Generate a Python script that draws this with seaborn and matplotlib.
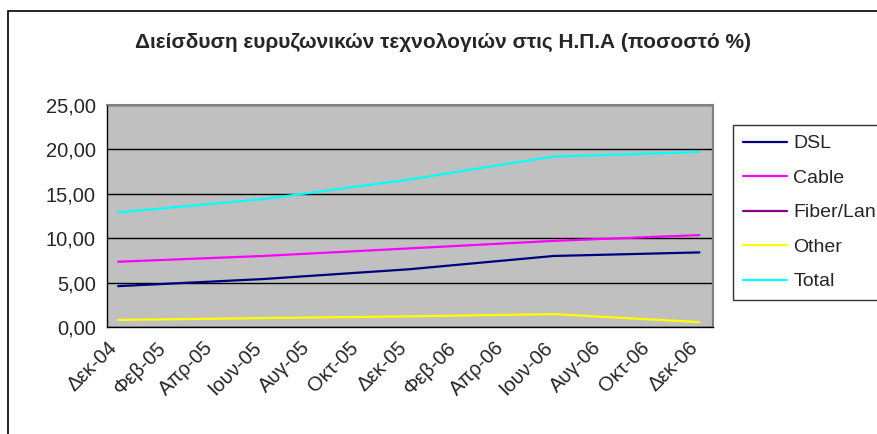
import numpy as np
import pandas as pd
import matplotlib
matplotlib.use("Agg")
import matplotlib.pyplot as plt
from matplotlib.lines import Line2D
from matplotlib.patches import Rectangle
import seaborn as sns

# Data
dates = pd.to_datetime(["2004-12-15", "2005-06-15", "2005-12-15", "2006-06-15", "2006-12-15"])
dsl = [4.6, 5.4, 6.5, 8.0, 8.4]
cable = [7.35, 8.0, 8.85, 9.7, 10.35]
fiber_lan = [np.nan, np.nan, np.nan, np.nan, np.nan]
other = [0.8, 1.0, 1.2, 1.45, 0.55]
total = [12.9, 14.4, 16.6, 19.2, 19.7]

series_names = ["DSL", "Cable", "Fiber/Lan", "Other", "Total"]
series_colors = ["#000080", "#FF00FF", "#800080", "#FFFF00", "#00FFFF"]

tick_dates = pd.date_range("2004-12-01", "2006-12-01", freq="2MS")
tick_labels = ["Δεκ-04", "Φεβ-05", "Απρ-05", "Ιουν-05", "Αυγ-05", "Οκτ-05", "Δεκ-05",
               "Φεβ-06", "Απρ-06", "Ιουν-06", "Αυγ-06", "Οκτ-06", "Δεκ-06"]
y_ticks = [0, 5, 10, 15, 20, 25]
y_tick_labels = ["0,00", "5,00", "10,00", "15,00", "20,00", "25,00"]

title = "Διείσδυση ευρυζωνικών τεχνολογιών στις Η.Π.Α (ποσοστό %)"

df = pd.DataFrame({"date": dates, "DSL": dsl, "Cable": cable, "Fiber/Lan": fiber_lan,
                   "Other": other, "Total": total})
long_df = df.melt(id_vars="date", var_name="series", value_name="value").dropna()

sns.set_style("white")
plt.rcParams["font.family"] = ["Liberation Sans", "DejaVu Sans"]

fig = plt.figure(figsize=(8.78, 4.34), dpi=100)
ax = fig.add_axes([107 / 878, 1 - 327 / 434, (713 - 107) / 878, (327 - 105) / 434])
ax.set_facecolor("#C0C0C0")

sns.lineplot(data=long_df, x="date", y="value", hue="series",
             hue_order=[n for n in series_names if n in long_df["series"].unique()],
             palette=dict(zip(series_names, series_colors)),
             linewidth=1.6, legend=False, ax=ax)

ax.set_xlim(pd.Timestamp("2004-12-01"), pd.Timestamp("2007-01-01"))
ax.set_ylim(0, 25)
ax.set_xticks(tick_dates)
ax.set_xticklabels(tick_labels, rotation=45, ha="right", rotation_mode="anchor", fontsize=14.5)
ax.set_yticks(y_ticks)
ax.set_yticklabels(y_tick_labels, fontsize=14.5)
ax.tick_params(axis="both", direction="out", length=5, width=1, color="black", pad=3)
ax.set_xlabel("")
ax.set_ylabel("")
ax.yaxis.grid(True, color="black", linewidth=1)
ax.xaxis.grid(False)
ax.set_axisbelow(True)

for side in ["left", "bottom"]:
    ax.spines[side].set_color("black")
    ax.spines[side].set_linewidth(1)
for side in ["top", "right"]:
    ax.spines[side].set_color("#808080")
    ax.spines[side].set_linewidth(1.5)

fig.text(443 / 878, 1 - 42 / 434, title, ha="center", va="center",
         fontsize=15, fontweight="bold")

handles = [Line2D([0], [0], color=c, linewidth=1.6) for c in series_colors]
leg = fig.legend(handles, series_names, loc="upper left",
                 bbox_to_anchor=(733 / 878, 1 - 125 / 434), frameon=True,
                 fontsize=14, handlelength=2.3, handletextpad=0.3,
                 labelspacing=0.87, borderpad=0.5, borderaxespad=0, fancybox=False)
leg.get_frame().set_edgecolor("black")
leg.get_frame().set_linewidth(1)

# outer chart frame
fig.patches.append(Rectangle((8 / 878, -0.1), 1.2, 1 - 11 / 434 + 0.1,
                             transform=fig.transFigure, fill=False,
                             edgecolor="black", linewidth=1.2))

fig.savefig("out.png", dpi=100)
